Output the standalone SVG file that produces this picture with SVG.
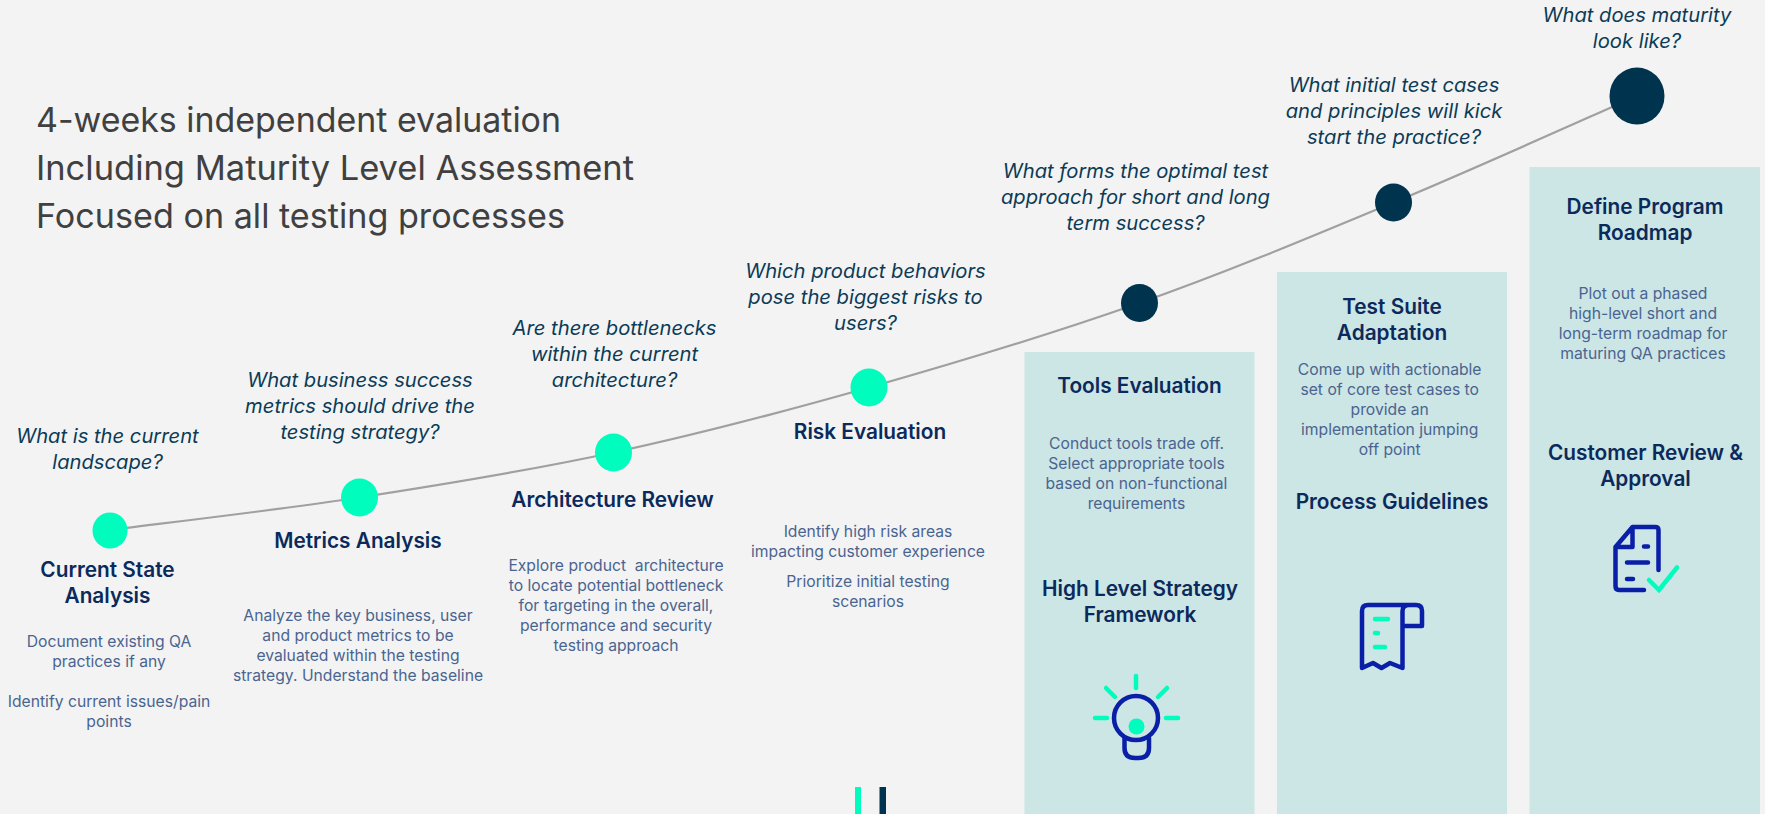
<svg xmlns="http://www.w3.org/2000/svg" width="1765" height="814" viewBox="0 0 1765 814">
<style>
text{font-family:"Inter","Liberation Sans",sans-serif;text-anchor:middle}
.t{font-size:34px;fill:#404040;text-anchor:start}
.q{font-size:20.200px;font-style:italic;fill:#0b3b57}
.h{font-size:20.800px;font-weight:600;fill:#0b2a5b}
.d{font-size:15.700px;fill:#4a6490;white-space:pre}
.g{fill:#00fdbd}.k{fill:#00334e}
.p{fill:#cce5e5}
.b{fill:none;stroke:#0a1fa8;stroke-width:4.500;stroke-linejoin:round;stroke-linecap:round}
.r{fill:none;stroke:#00fdbd;stroke-width:4.500;stroke-linecap:round}
</style>
<rect width="1765" height="814" fill="#f3f3f3"/>
<g id="title">
<text class="t" x="36" y="131.500" textLength="525" lengthAdjust="spacingAndGlyphs">4-weeks independent evaluation</text>
<text class="t" x="36" y="179.500" textLength="598" lengthAdjust="spacingAndGlyphs">Including Maturity Level Assessment</text>
<text class="t" x="36" y="227.500" textLength="529" lengthAdjust="spacingAndGlyphs">Focused on all testing processes</text>
</g>
<g id="panels">
<rect class="p" x="1024.500" y="352" width="230" height="462"/>
<rect class="p" x="1277" y="272" width="230" height="542"/>
<rect class="p" x="1529.500" y="167" width="230.500" height="647"/>
</g>
<g id="connectors">
<path d="M110 530C151.500 524.600 275.250 510.400 359 497.500C442.750 484.600 528.500 470.800 613.500 452.500C698.500 434.200 781.300 412.400 869 387.500C956.700 362.600 1052.100 333.800 1139.500 303C1226.900 272.200 1310.600 237 1393.500 202.500C1476.400 168 1596.400 113.750 1637 96" fill="none" stroke="#a0a0a0" stroke-width="2.200"/>
</g>
<g id="node-current-state">
<ellipse class="g" cx="110" cy="530.500" rx="17.500" ry="18"/>
<text class="q" x="107.500" y="442.500">What is the current</text>
<text class="q" x="107.500" y="468.500">landscape?</text>
<text class="h" x="107.500" y="577">Current State</text>
<text class="h" x="107.500" y="603">Analysis</text>
<text class="d" x="109" y="647">Document existing QA</text>
<text class="d" x="109" y="667">practices if any</text>
<text class="d" x="109" y="707">Identify current issues/pain</text>
<text class="d" x="109" y="727">points</text>
</g>
<g id="node-metrics">
<ellipse class="g" cx="359.500" cy="497.500" rx="18.500" ry="19"/>
<text class="q" x="360" y="387">What business success</text>
<text class="q" x="360" y="413">metrics should drive the</text>
<text class="q" x="360" y="439">testing strategy?</text>
<text class="h" x="358" y="547.700">Metrics Analysis</text>
<text class="d" x="358" y="621">Analyze the key business, user</text>
<text class="d" x="358" y="641">and product metrics to be</text>
<text class="d" x="358" y="661">evaluated within the testing</text>
<text class="d" x="358" y="681">strategy. Understand the baseline</text>
</g>
<g id="node-architecture">
<ellipse class="g" cx="613.500" cy="452.500" rx="18.500" ry="19"/>
<text class="q" x="614.500" y="335">Are there bottlenecks</text>
<text class="q" x="614.500" y="361">within the current</text>
<text class="q" x="614.500" y="387">architecture?</text>
<text class="h" x="612.500" y="507">Architecture Review</text>
<text class="d" x="616" y="571">Explore product  architecture</text>
<text class="d" x="616" y="591">to locate potential bottleneck</text>
<text class="d" x="616" y="611">for targeting in the overall,</text>
<text class="d" x="616" y="631">performance and security</text>
<text class="d" x="616" y="651">testing approach</text>
</g>
<g id="node-risk">
<ellipse class="g" cx="869" cy="387.500" rx="18.500" ry="19"/>
<text class="q" x="865.500" y="278">Which product behaviors</text>
<text class="q" x="865.500" y="304">pose the biggest risks to</text>
<text class="q" x="865.500" y="330">users?</text>
<text class="h" x="870" y="439">Risk Evaluation</text>
<text class="d" x="868" y="537">Identify high risk areas</text>
<text class="d" x="868" y="557">impacting customer experience</text>
<text class="d" x="868" y="587">Prioritize initial testing</text>
<text class="d" x="868" y="607">scenarios</text>
</g>
<g id="node-tools">
<ellipse class="k" cx="1139.500" cy="303" rx="18.500" ry="19"/>
<text class="q" x="1135.500" y="178">What forms the optimal test</text>
<text class="q" x="1135.500" y="204">approach for short and long</text>
<text class="q" x="1135.500" y="230">term success?</text>
<text class="h" x="1139.500" y="392.700">Tools Evaluation</text>
<text class="d" x="1136.500" y="449">Conduct tools trade off.</text>
<text class="d" x="1136.500" y="469">Select appropriate tools</text>
<text class="d" x="1136.500" y="489">based on non-functional</text>
<text class="d" x="1136.500" y="509">requirements</text>
<text class="h" x="1140" y="596">High Level Strategy</text>
<text class="h" x="1140" y="622">Framework</text>
<g id="icon-bulb">
<path class="r" d="M1136 676V688M1106 688L1115 697M1167 688L1158 697M1095 718H1107M1166 718H1178"/>
<circle class="g" cx="1136.500" cy="726.500" r="8"/>
<circle class="b" cx="1136" cy="718" r="22"/>
<path class="b" d="M1124.500 738V748Q1124.500 758 1135 758H1138.500Q1149 758 1149 748V738"/>
</g>
</g>
<g id="node-adaptation">
<ellipse class="k" cx="1393.500" cy="202.500" rx="18.500" ry="19"/>
<text class="q" x="1394" y="92">What initial test cases</text>
<text class="q" x="1394" y="118">and principles will kick</text>
<text class="q" x="1394" y="144">start the practice?</text>
<text class="h" x="1392" y="314">Test Suite</text>
<text class="h" x="1392" y="340">Adaptation</text>
<text class="d" x="1389.700" y="375">Come up with actionable</text>
<text class="d" x="1389.700" y="395">set of core test cases to</text>
<text class="d" x="1389.700" y="415">provide an</text>
<text class="d" x="1389.700" y="435">implementation jumping</text>
<text class="d" x="1389.700" y="455">off point</text>
<text class="h" x="1392" y="508.700">Process Guidelines</text>
<g id="icon-receipt">
<path class="b" d="M1402.500 668V611Q1402.500 605 1409 605H1416Q1422 605 1422 611V626H1402.500M1409 605H1368Q1362 605 1362 611V668L1373 663L1381.500 668L1390 663L1402.500 668"/>
<path class="r" d="M1375 619H1388M1375 633H1378M1375 647H1385"/>
</g>
</g>
<g id="node-roadmap">
<ellipse class="k" cx="1637" cy="96" rx="27.500" ry="28.500"/>
<text class="q" x="1637" y="22">What does maturity</text>
<text class="q" x="1637" y="48">look like?</text>
<text class="h" x="1645" y="214">Define Program</text>
<text class="h" x="1645" y="240">Roadmap</text>
<text class="d" x="1643" y="299">Plot out a phased</text>
<text class="d" x="1643" y="319">high-level short and</text>
<text class="d" x="1643" y="339">long-term roadmap for</text>
<text class="d" x="1643" y="359">maturing QA practices</text>
<text class="h" x="1645.500" y="460">Customer Review &amp;</text>
<text class="h" x="1645.500" y="486">Approval</text>
<g id="icon-doc">
<path class="b" d="M1658.500 570V530Q1658.500 527 1655 527H1632.500L1615.500 547V586Q1615.500 590 1619 590H1644M1632.500 527V547H1615.500"/>
<path class="b" d="M1644 546.500H1648M1627 562.500H1648M1627 579H1633"/>
<path class="r" d="M1649 580L1659 590L1677 567.500"/>
</g>
</g>
<g id="footer-marks">
<rect class="g" x="855" y="787" width="6" height="27"/>
<rect class="k" x="879.500" y="787" width="6.500" height="27"/>
</g>
</svg>
